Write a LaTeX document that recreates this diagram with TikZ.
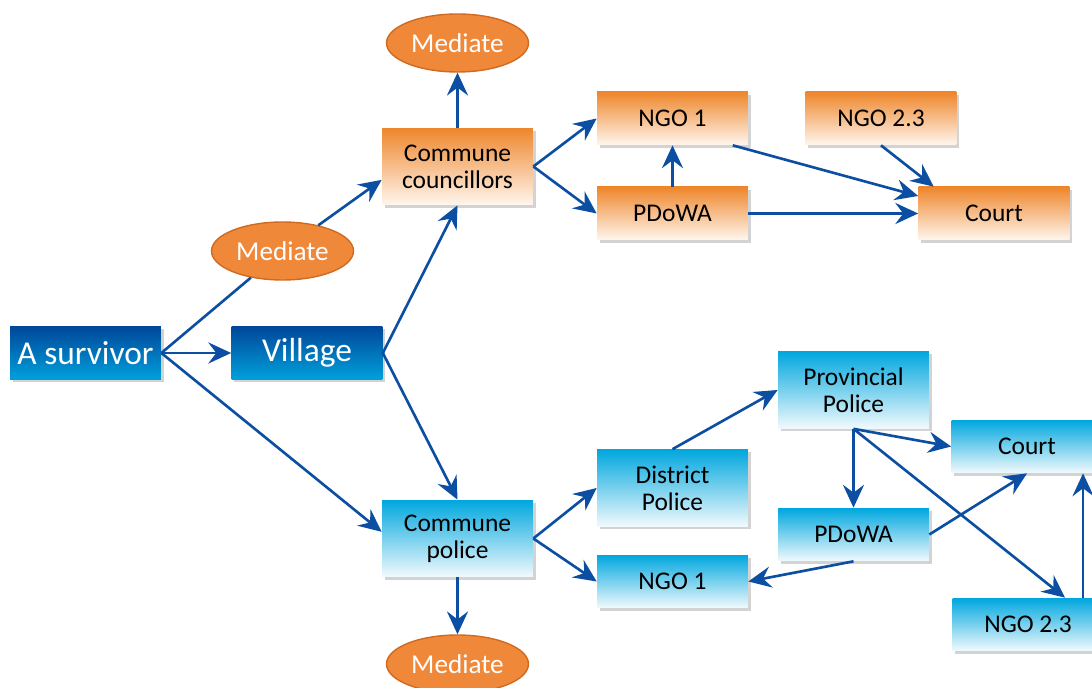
\documentclass[tikz,border=0pt]{standalone}
\usepackage{fontspec}
\setmainfont{Carlito}
\usepackage{tikz}
\usetikzlibrary{arrows.meta,shapes.geometric,shadows}

\definecolor{dkTop}{HTML}{00479A}
\definecolor{dkBot}{HTML}{00A0DC}
\definecolor{blTop}{HTML}{00A7DE}
\definecolor{blBot}{HTML}{F2FAFD}
\definecolor{orTop}{HTML}{EE862B}
\definecolor{orBot}{HTML}{FFF6EE}
\definecolor{medFill}{HTML}{F0883A}
\definecolor{medEdge}{HTML}{D06A20}
\definecolor{arrBlue}{HTML}{0B4EA2}

\newcommand{\boxfont}{\fontsize{14.5}{15.5}\selectfont}
\newcommand{\medfont}{\fontsize{15.5}{16.5}\selectfont}
\newcommand{\bigfont}{\fontsize{19}{21}\selectfont}

\tikzset{
  box/.style={rectangle, minimum width=3.02cm, minimum height=1.06cm, inner sep=2pt,
    align=center, font=\boxfont,
    drop shadow={shadow xshift=1.5pt, shadow yshift=-1.5pt, opacity=0.35}},
  orbox/.style={box, top color=orTop, bottom color=orBot},
  blbox/.style={box, top color=blTop, bottom color=blBot},
  dkbox/.style={box, top color=dkTop, bottom color=dkBot, text=white, font=\bigfont},
  tallbox/.style={minimum height=1.54cm},
  medi/.style={ellipse, minimum width=2.84cm, minimum height=1.16cm, inner sep=0pt,
    fill=medFill, draw=medEdge, line width=0.8pt, text=white, font=\medfont},
  arr/.style={-{Stealth[length=13pt,width=12pt,inset=4.5pt]}, line width=1.5pt, draw=arrBlue},
  ln/.style={line width=1.5pt, draw=arrBlue}
}

\begin{document}
\begin{tikzpicture}[x=0.02cm,y=-0.02cm]
\useasboundingbox (0,0) rectangle (1092,688);

% start
\node[dkbox] (surv) at (85.5,353) {A survivor};
\node[dkbox] (vil) at (307,353) {Village};
\node[medi] (med2) at (282.5,251) {Mediate};

% upper branch
\node[orbox,tallbox] (cc) at (457.5,166.5) {Commune\\councillors};
\node[medi] (med1) at (457.5,43) {Mediate};
\node[orbox] (ngo1) at (672.5,118.5) {NGO 1};
\node[orbox] (pdowa) at (672.5,213.5) {PDoWA};
\node[orbox] (ngo23) at (881,118.5) {NGO 2.3};
\node[orbox] (court) at (994,213.5) {Court};

% lower branch
\node[blbox,tallbox] (cp) at (457.5,538.5) {Commune\\police};
\node[medi] (med3) at (457.5,664) {Mediate};
\node[blbox,tallbox] (dp) at (672.5,488) {District\\Police};
\node[blbox] (ngo1b) at (672.5,581.5) {NGO 1};
\node[blbox,tallbox] (pp) at (853.5,390) {Provincial\\Police};
\node[blbox] (courtb) at (1027,446.5) {Court};
\node[blbox] (pdowab) at (853.5,534.5) {PDoWA};
\node[blbox] (ngo23b) at (1028,624.5) {NGO 2.3};

% connectors
\draw[arr] (surv.east) -- (vil.west);
\draw[ln] (surv.east) -- (med2);
\draw[arr] (med2) -- (cc.190);
\draw[arr] (surv.east) -- (cp.175);
\draw[arr] (vil.east) -- (cc.south);
\draw[arr] (vil.east) -- (cp.north);

\draw[arr] (cc.north) -- (med1.south);
\draw[arr] (cc.east) -- (ngo1.west);
\draw[arr] (cc.east) -- (pdowa.west);
\draw[arr] (pdowa.north) -- (ngo1.south);
\draw[arr] (ngo1.-24) -- (court.167);
\draw[arr] (pdowa.east) -- (court.west);
\draw[arr] (ngo23.south) -- (court.156);

\draw[arr] (cp.south) -- (med3.north);
\draw[arr] (cp.east) -- (dp.west);
\draw[arr] (cp.east) -- (ngo1b.west);
\draw[arr] (dp.north) -- (pp.west);
\draw[arr] (pp.south) -- (pdowab.north);
\draw[arr] (pp.south) -- (courtb.west);
\draw[arr] (pp.south) -- (ngo23b.36);
\draw[arr] (pdowab.east) -- (courtb.south);
\draw[arr] (pdowab.south) -- (ngo1b.east);
\draw[arr] (ngo23b.26) -- (ngo23b.26 |- courtb.south);
\end{tikzpicture}
\end{document}
